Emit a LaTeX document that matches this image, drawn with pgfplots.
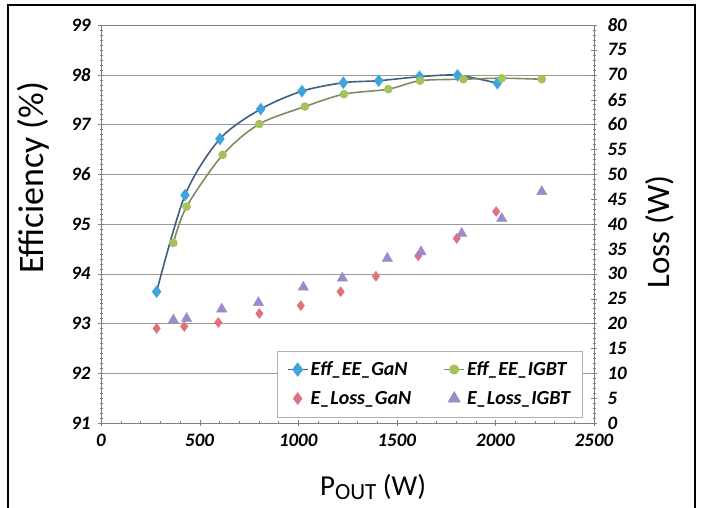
\documentclass[border=0pt]{standalone}
\usepackage{fontspec}
\setmainfont{Carlito}
\usepackage{pgfplots}
\pgfplotsset{compat=1.18}
\definecolor{ganline}{HTML}{3E5F80}
\definecolor{ganmark}{HTML}{3FA4DC}
\definecolor{igbtline}{HTML}{7E8C62}
\definecolor{igbtmark}{HTML}{A6C25C}
\definecolor{losspink}{HTML}{E0707E}
\definecolor{losspurp}{HTML}{9A8CCB}
\pgfplotsset{
  myaxis/.style={
    scale only axis, width=493bp, height=398bp,
    at={(101bp,85bp)}, anchor=south west,
    xmin=0, xmax=2500,
    axis line style={gray},
    tick style={gray},
    /pgf/number format/assume math mode=true,
    /pgf/number format/1000 sep={},
    tick label style={font=\bfseries\itshape\fontsize{19}{19}\selectfont},
    tick align=center,
    major tick length=6bp, minor tick length=3bp,
  }
}
\begin{document}
\begin{tikzpicture}[x=1bp,y=1bp]
\useasboundingbox (0,0) rectangle (702,508);
\draw[line width=1.2bp] (8,-10) rectangle (695,503);
\begin{axis}[myaxis,
  ymin=91, ymax=99, ytick={91,...,99},
  xtick={0,500,...,2500}, minor x tick num=4,
  minor y tick num=9,
  ymajorgrids, major grid style={gray!80},
  axis y line*=left, axis x line*=bottom,
  xlabel={P\raisebox{-0.35ex}{\scalebox{0.8}{OUT}} (W)},
  xlabel style={at={(axis description cs:0.552,-0.161)}, anchor=center, font=\fontsize{29}{29}\selectfont},
  ylabel={Efficiency (\%)},
  ylabel style={at={(axis description cs:-0.138,0.616)}, anchor=center, font=\fontsize{36}{36}\selectfont},
  yticklabel style={xshift=-4bp},
  xticklabel style={yshift=-5bp},
]
\addplot[ganline, line width=1.6bp, smooth, mark=diamond*, mark size=5bp, mark options={fill=ganmark, draw=ganmark}] coordinates {
(282,93.64)(426,95.58)(603,96.71)(810,97.31)(1019,97.67)(1229,97.84)(1408,97.88)(1615,97.96)(1808,97.99)(2010,97.83)};
\addplot[igbtline, line width=1.6bp, smooth, mark=*, mark size=3.5bp, mark options={fill=igbtmark, draw=igbtmark}] coordinates {
(367,94.62)(434,95.35)(617,96.39)(803,97.01)(1034,97.36)(1232,97.61)(1457,97.71)(1618,97.88)(1837,97.91)(2032,97.93)(2235,97.91)};
\end{axis}
\begin{axis}[myaxis,
  ymin=0, ymax=80, ytick={0,5,...,80}, minor y tick num=4,
  axis y line*=right, axis x line*=top, xtick=\empty,
  ylabel={Loss (W)},
  ylabel style={at={(axis description cs:1.134,0.48)}, anchor=center, font=\fontsize{33}{33}\selectfont},
  yticklabel style={xshift=7bp},
  legend columns=2,
  legend style={at={(0.976,0.015)}, anchor=south east, draw=gray!60, fill=white,
    font=\bfseries\itshape\fontsize{20}{20}\selectfont,
    /tikz/every even column/.append style={column sep=30bp},
    row sep=10bp, inner xsep=10bp, inner ysep=9bp},
  legend cell align=left,
  legend image post style={scale=1.2},
]
\addlegendimage{ganline, line width=1.6bp, mark=diamond*, mark size=5bp, mark options={fill=ganmark, draw=ganmark}}
\addlegendentry{Eff\_EE\_GaN}
\addlegendimage{igbtline, line width=1.6bp, mark=*, mark size=3.5bp, mark options={fill=igbtmark, draw=igbtmark}}
\addlegendentry{Eff\_EE\_IGBT}
\addplot[only marks, mark=diamond*, mark size=5bp, mark options={fill=losspink, draw=losspink}] coordinates {
(282,19.0)(422,19.4)(595,20.2)(803,22.0)(1013,23.6)(1215,26.4)(1394,29.5)(1609,33.6)(1804,37.1)(2004,42.5)};
\addlegendentry{E\_Loss\_GaN}
\addplot[only marks, mark=triangle*, mark size=6bp, mark options={fill=losspurp, draw=losspurp}] coordinates {
(367,20.7)(434,21.0)(612,22.9)(798,24.2)(1026,27.3)(1224,29.1)(1452,33.1)(1623,34.4)(1829,38.1)(2032,41.1)(2235,46.5)};
\addlegendentry{E\_Loss\_IGBT}
\end{axis}
\end{tikzpicture}
\end{document}
